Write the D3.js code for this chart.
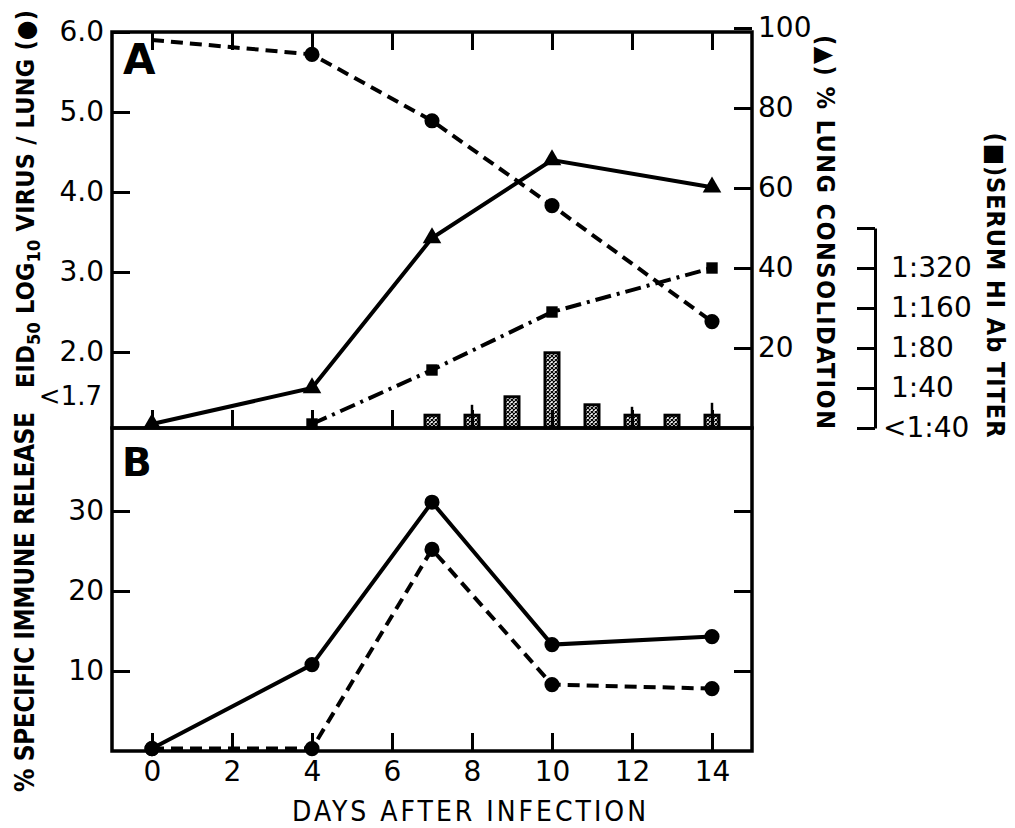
<html>
<script src="https://d3js.org/d3.v7.min.js"></script>
<style>
body { margin: 0; background: white; }
text { font-family: 'DejaVu Sans', sans-serif; fill: black; }
.lab { font-family: 'DejaVu Sans Condensed', 'DejaVu Sans', sans-serif; font-weight: bold; }
</style>
<body onload='init()'>
<div id="fig"></div>
<script>

// panel A
var days = [0, 4, 7, 10, 14]
var virusLog = [5.9, 5.72, 4.89, 3.83, 2.38]
var consolidation = [1, 10, 47.5, 67, 60.2]
var titerDays = [4, 7, 10, 14]
var titerStep = [0.1, 1.45, 2.9, 4.0]
var titerLabels = ['<1:40', '1:40', '1:80', '1:160', '1:320']
var barDays = [7, 8, 9, 10, 11, 12, 13, 14]
var barValues = [3.2, 3.2, 7.8, 18.8, 5.8, 3.2, 3.2, 3.2]
var barUpper = [null, 5.8, null, null, null, 5.3, null, 6.3]

// panel B
var releaseSolid = [0.3, 10.8, 31.1, 13.3, 14.3]
var releaseDashed = [0.3, 0.3, 25.2, 8.3, 7.8]

// ticks
var dayTicks = [0, 2, 4, 6, 8, 10, 12, 14]
var virusTicks = [2, 3, 4, 5, 6]
var consTicks = [20, 40, 60, 80, 100]
var releaseTicks = [10, 20, 30]

function init() {

    var svg = d3.select('#fig').append('svg')
        .attr('width', 1015)
        .attr('height', 828)

    var left = 112, right = 752, topA = 32, mid = 428, bottom = 751

    var xs = d3.scaleLinear().domain([-1, 15]).range([left, right])
    var yVirus = d3.scaleLinear().domain([6 - (mid - topA) / 80, 6]).range([mid, topA])
    var yCons = d3.scaleLinear().domain([0, 100]).range([mid, mid - 400])
    var yTiter = d3.scaleLinear().domain([0, 5]).range([mid, mid - 200])
    var yB = d3.scaleLinear().domain([0, (bottom - mid) / 8]).range([bottom, mid])

    var pat = svg.append('defs').append('pattern')
        .attr('id', 'hatch')
        .attr('patternUnits', 'userSpaceOnUse')
        .attr('width', 4)
        .attr('height', 4)
    pat.append('rect').attr('width', 4).attr('height', 4).attr('fill', 'white')
    pat.append('path').attr('d', 'M0,0L4,4M4,0L0,4').attr('stroke', 'black').attr('stroke-width', 1.2)

    // hatched bars
    svg.append('g').selectAll('rect')
        .data(barDays)
        .enter()
        .append('rect')
        .attr('x', function(d) { return xs(d) - 7 })
        .attr('width', 14)
        .attr('y', function(d, i) { return yCons(barValues[i]) })
        .attr('height', function(d, i) { return yCons(0) - yCons(barValues[i]) })
        .attr('fill', 'url(#hatch)')
        .attr('stroke', 'black')
        .attr('stroke-width', 3)

    svg.append('g').selectAll('line')
        .data(barDays.filter(function(d, i) { return barUpper[i] != null }))
        .enter()
        .append('line')
        .attr('x1', function(d) { return xs(d) })
        .attr('x2', function(d) { return xs(d) })
        .attr('y1', function(d) { return yCons(barValues[barDays.indexOf(d)]) })
        .attr('y2', function(d) { return yCons(barUpper[barDays.indexOf(d)]) })
        .attr('stroke', 'black')
        .attr('stroke-width', 2.5)

    function drawLine(xdays, vals, yscale, dash) {
        var line = d3.line()
            .x(function(d, i) { return xs(xdays[i]) })
            .y(function(d) { return yscale(d) })
        svg.append('path')
            .attr('d', line(vals))
            .attr('fill', 'none')
            .attr('stroke', 'black')
            .attr('stroke-width', 4)
            .attr('stroke-dasharray', dash)
    }

    drawLine(days, virusLog, yVirus, '12,7')
    drawLine(days, consolidation, yCons, null)
    drawLine(titerDays, titerStep, yTiter, '16,6,3,6')
    drawLine(days, releaseSolid, yB, null)
    drawLine(days, releaseDashed, yB, '12,7')

    function drawMarks(xdays, vals, yscale, type, size, from) {
        svg.append('g').selectAll('path')
            .data(xdays.slice(from))
            .enter()
            .append('path')
            .attr('transform', function(d, i) { return 'translate(' + xs(d) + ',' + yscale(vals[i + from]) + ')' })
            .attr('d', d3.symbol().type(type).size(size))
    }

    // no virus marker shows at day 0
    drawMarks(days, virusLog, yVirus, d3.symbolCircle, 180, 1)
    drawMarks(days, consolidation, yCons, d3.symbolTriangle, 150, 0)
    drawMarks(titerDays, titerStep, yTiter, d3.symbolSquare, 130, 0)
    drawMarks(days, releaseSolid, yB, d3.symbolCircle, 180, 0)
    drawMarks(days, releaseDashed, yB, d3.symbolCircle, 180, 0)

    // frames
    svg.append('rect').attr('x', left).attr('y', topA).attr('width', right - left).attr('height', mid - topA)
        .attr('fill', 'none').attr('stroke', 'black').attr('stroke-width', 3.5)
    svg.append('rect').attr('x', left).attr('y', mid).attr('width', right - left).attr('height', bottom - mid)
        .attr('fill', 'none').attr('stroke', 'black').attr('stroke-width', 3.5)

    function styleAxis(g) {
        g.select('.domain').remove()
        g.selectAll('line').attr('stroke-width', 3)
        g.selectAll('text').style('font-size', '28px').style('font-family', 'DejaVu Sans')
    }

    svg.append('g')
        .attr('transform', 'translate(' + left + ',0)')
        .call(d3.axisLeft(yVirus).tickValues(virusTicks).tickFormat(d3.format('.1f')).tickSizeInner(-18).tickPadding(8))
        .call(styleAxis)

    svg.append('text')
        .attr('x', 102).attr('y', yVirus(1.45))
        .attr('dy', '0.35em')
        .attr('text-anchor', 'end')
        .style('font-size', '26px')
        .text('<1.7')

    svg.append('g')
        .attr('transform', 'translate(' + right + ',0)')
        .call(d3.axisRight(yCons).tickValues(consTicks).tickSizeInner(-18).tickPadding(6))
        .call(styleAxis)

    var tAxis = svg.append('g')
        .attr('transform', 'translate(875,0)')
        .call(d3.axisRight(yTiter).tickValues([0, 1, 2, 3, 4, 5]).tickFormat(function(d) { return titerLabels[d] || '' })
            .tickSizeInner(-18).tickSizeOuter(0).tickPadding(16))
        .call(function(g) {
            g.selectAll('line').attr('stroke-width', 3)
            g.select('.domain').attr('stroke-width', 3)
            g.selectAll('text').style('font-size', '28px').style('font-family', 'DejaVu Sans')
        })
    tAxis.selectAll('text').filter(function(d) { return d == 0 }).attr('dx', '-8')

    svg.append('g')
        .attr('transform', 'translate(0,' + topA + ')')
        .call(d3.axisTop(xs).tickValues(dayTicks).tickSizeInner(-18).tickFormat(''))
        .call(styleAxis)

    svg.append('g')
        .attr('transform', 'translate(0,' + mid + ')')
        .call(d3.axisBottom(xs).tickValues(dayTicks).tickSizeInner(-18).tickFormat(''))
        .call(styleAxis)

    svg.append('g')
        .attr('transform', 'translate(0,' + bottom + ')')
        .call(d3.axisBottom(xs).tickValues(dayTicks).tickSizeInner(-18).tickPadding(10))
        .call(styleAxis)

    svg.append('g')
        .attr('transform', 'translate(' + left + ',0)')
        .call(d3.axisLeft(yB).tickValues(releaseTicks).tickSizeInner(-18).tickPadding(8))
        .call(styleAxis)

    svg.append('g')
        .attr('transform', 'translate(' + right + ',0)')
        .call(d3.axisRight(yB).tickValues(releaseTicks).tickSizeInner(-18).tickFormat(''))
        .call(styleAxis)

    // panel letters
    svg.append('text').attr('x', 123).attr('y', 74).style('font-size', '42px').style('font-weight', 'bold').text('A')
    svg.append('text').attr('x', 122).attr('y', 476).style('font-size', '39px').style('font-weight', 'bold').text('B')

    // axis titles
    svg.append('text')
        .attr('class', 'lab')
        .attr('x', 469).attr('y', 821)
        .attr('text-anchor', 'middle')
        .attr('textLength', 354)
        .style('font-size', '28px')
        .style('font-weight', 'normal')
        .text('DAYS AFTER INFECTION')

    svg.append('text')
        .attr('class', 'lab')
        .attr('transform', 'translate(34,602) rotate(-90)')
        .attr('text-anchor', 'middle')
        .attr('textLength', 380)
        .style('font-size', '26px')
        .text('% SPECIFIC IMMUNE RELEASE')

    var eid = svg.append('text')
        .attr('class', 'lab')
        .attr('transform', 'translate(34,199) rotate(-90)')
        .attr('text-anchor', 'middle')
        .attr('textLength', 378)
        .style('font-size', '25px')
    eid.append('tspan').text('EID')
    eid.append('tspan').attr('dy', 6).style('font-size', '18px').text('50')
    eid.append('tspan').attr('dy', -6).text(' LOG')
    eid.append('tspan').attr('dy', 6).style('font-size', '18px').text('10')
    eid.append('tspan').attr('dy', -6).text(' VIRUS / LUNG (\u25CF)')

    svg.append('text')
        .attr('class', 'lab')
        .attr('transform', 'translate(817,232) rotate(90)')
        .attr('text-anchor', 'middle')
        .attr('textLength', 394)
        .style('font-size', '25px')
        .text('(\u25B2) % LUNG CONSOLIDATION')

    svg.append('text')
        .attr('class', 'lab')
        .attr('transform', 'translate(987,285) rotate(90)')
        .attr('text-anchor', 'middle')
        .attr('textLength', 305)
        .style('font-size', '25px')
        .text('(\u25A0)SERUM HI Ab TITER')
}
</script>
</body>
</html>
